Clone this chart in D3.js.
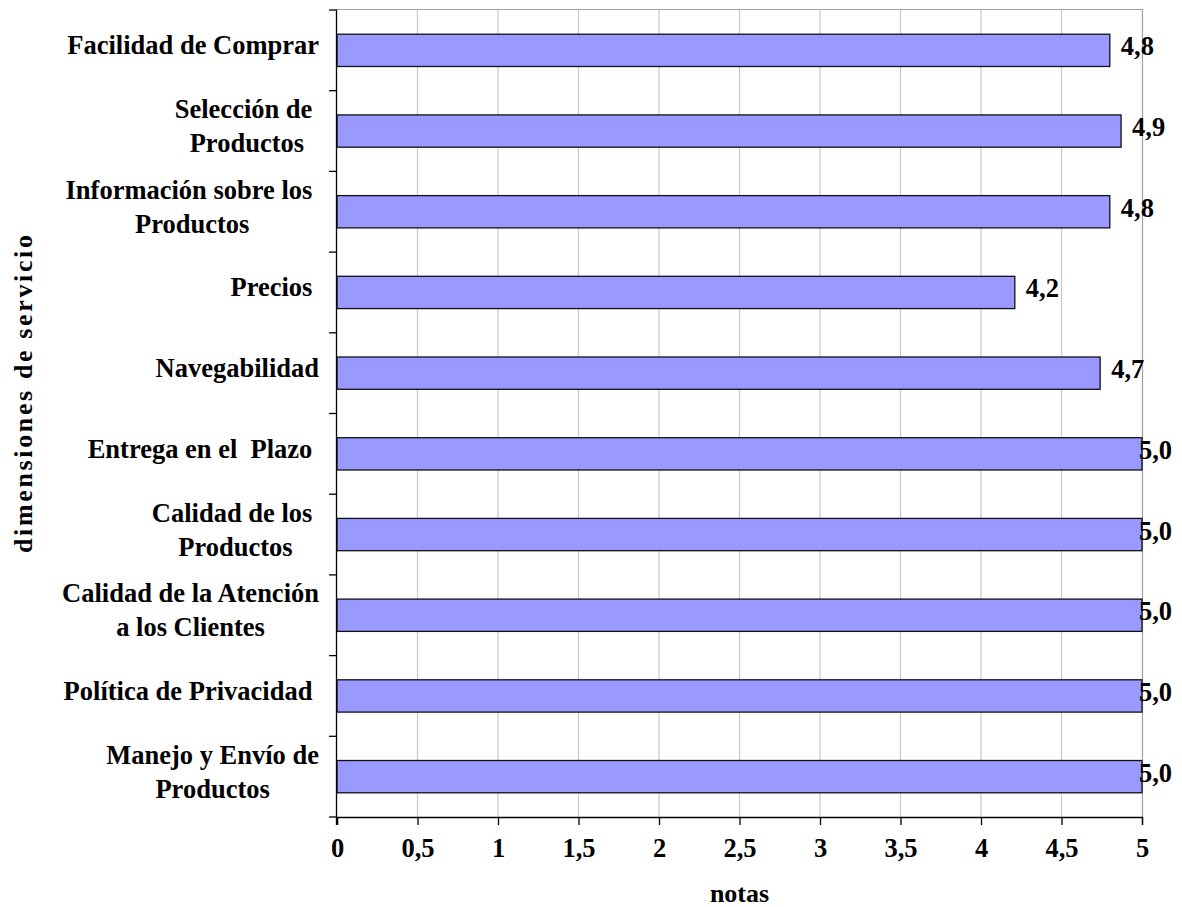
<!DOCTYPE html>
<html>
<head>
<meta charset="utf-8">
<script src="https://cdn.jsdelivr.net/npm/d3@7"></script>
<style>
	body { margin: 0; background: #fff; }
	text { font-family: "Liberation Serif", "Times New Roman", serif; font-weight: bold; fill: #000; }
</style>
</head>
<body>
<svg id="chart" width="1182" height="907"></svg>
<script>
var categories = [
	["Facilidad de Comprar"],
	["Selección de ", "Productos"],
	["Información sobre los ", "Productos"],
	["Precios "],
	["Navegabilidad"],
	["Entrega en el  Plazo "],
	["Calidad de los ", "Productos"],
	["Calidad de la Atención", "a los Clientes"],
	["Política de Privacidad "],
	["Manejo y Envío de", "Productos"]
];
var notas = [4.8, 4.87, 4.8, 4.21, 4.74, 5.0, 5.0, 5.0, 5.0, 5.0];
var xTicks = [0, 0.5, 1, 1.5, 2, 2.5, 3, 3.5, 4, 4.5, 5];

(function () {
	'use strict';

	var svg = d3.select("#chart");
	var pLeft = 337, pRight = 1142, pTop = 10, pBottom = 817;
	var fontSize = 26.5;
	var comma = function (v) { return String(v).replace(".", ","); };

	var x = d3.scaleLinear().domain([0, 5]).range([pLeft, pRight]);
	var keys = categories.map(function (c, i) { return i; });
	var y = d3.scaleBand().domain(keys).range([pTop, pBottom]).paddingInner(0.6).paddingOuter(0.3);

	// gridlines
	svg.append("g").selectAll("line").data(xTicks.slice(1, -1)).enter().append("line")
		.attr("x1", function (d) { return x(d); }).attr("x2", function (d) { return x(d); })
		.attr("y1", pTop).attr("y2", pBottom)
		.attr("stroke", "#c8c8c8").attr("stroke-width", 1.2);

	// plot border (top + right)
	svg.append("path")
		.attr("d", "M" + pLeft + "," + (pTop - 0.5) + "H" + (pRight + 0.5) + "V" + pBottom)
		.attr("fill", "none").attr("stroke", "#a0a0a0").attr("stroke-width", 1.2);

	// bars
	svg.append("g").selectAll("rect").data(notas).enter().append("rect")
		.attr("x", x(0))
		.attr("y", function (d, i) { return y(i); })
		.attr("width", function (d) { return x(d) - x(0); })
		.attr("height", y.bandwidth())
		.attr("fill", "#9999ff")
		.attr("stroke", "#111").attr("stroke-width", 1.3);

	// value labels
	var vl = svg.append("g").selectAll("text").data(notas).enter().append("text")
		.attr("y", function (d, i) { return y(i) + y.bandwidth() / 2 + 5; })
		.attr("font-size", fontSize)
		.text(function (d) { return comma(d3.format(".1f")(d)); });
	vl.attr("x", function (d) {
		var w = this.getComputedTextLength();
		return Math.min(x(d) + 11, 1172 - w);
	});

	// y axis line + ticks at band boundaries
	var yAxis = svg.append("g");
	yAxis.append("line").attr("x1", pLeft - 0.5).attr("x2", pLeft - 0.5).attr("y1", pTop).attr("y2", pBottom + 8)
		.attr("stroke", "#000").attr("stroke-width", 1.3);
	yAxis.selectAll("line.tick").data(d3.range(categories.length + 1)).enter().append("line")
		.attr("class", "tick")
		.attr("x1", pLeft - 8).attr("x2", pLeft)
		.attr("y1", function (i) { return pTop + i * y.step(); })
		.attr("y2", function (i) { return pTop + i * y.step(); })
		.attr("stroke", "#000").attr("stroke-width", 1.3);

	// category labels: lines centred within a right-aligned block
	var labelRight = 319;
	var lineH = 34;
	categories.forEach(function (lines, i) {
		var g = svg.append("g");
		var cy = y(i) + y.bandwidth() / 2;
		var t = g.selectAll("text").data(lines).enter().append("text")
			.attr("font-size", fontSize)
			.attr("text-anchor", "middle")
			.style("white-space", "pre")
			.attr("y", function (d, j) { return cy + 4 + (j - (lines.length - 1) / 2) * lineH; })
			.text(function (d) { return d; });
		var w = 0;
		t.each(function () { w = Math.max(w, this.getComputedTextLength()); });
		t.attr("x", labelRight - w / 2);
	});

	// x axis
	var xAxis = d3.axisBottom(x).tickValues(xTicks).tickFormat(comma).tickSize(8).tickPadding(13);
	var xa = svg.append("g").attr("transform", "translate(0," + pBottom + ")").call(xAxis);
	xa.select(".domain").attr("stroke", "#000").attr("stroke-width", 1.3);
	xa.selectAll(".tick line").attr("stroke", "#000").attr("stroke-width", 1.3);
	xa.selectAll(".tick text")
		.attr("font-size", fontSize)
		.attr("font-family", "Liberation Serif, Times New Roman, serif")
		.attr("font-weight", "bold")
		.attr("fill", "#000");

	// axis titles
	svg.append("text")
		.attr("x", (pLeft + pRight) / 2).attr("y", 902)
		.attr("text-anchor", "middle").attr("font-size", 26)
		.text("notas");

	svg.append("text")
		.attr("transform", "translate(32,394) rotate(-90)")
		.attr("text-anchor", "middle").attr("font-size", 26)
		.attr("textLength", 318).attr("lengthAdjust", "spacing")
		.text("dimensiones de servicio");
})();
</script>
</body>
</html>
